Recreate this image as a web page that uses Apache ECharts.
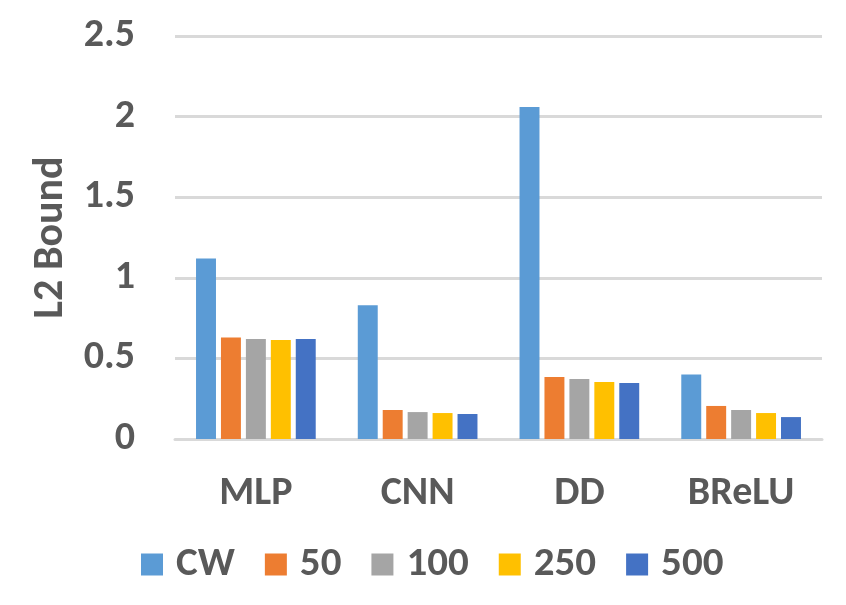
<!DOCTYPE html>
<html>
<head>
<meta charset="utf-8">
<script src="https://cdn.jsdelivr.net/npm/echarts@6/dist/echarts.min.js"></script>
<style>html,body{margin:0;padding:0;background:#fff;}#c{width:846px;height:605px;}</style>
</head>
<body>
<div id="c"></div>
<script>
const categories = ['MLP', 'CNN', 'DD', 'BReLU'];
const seriesNames = ['CW', '50', '100', '250', '500'];
const cw = [1.12, 0.83, 2.06, 0.40];
const s50 = [0.63, 0.18, 0.385, 0.205];
const s100 = [0.62, 0.167, 0.372, 0.18];
const s250 = [0.614, 0.161, 0.354, 0.161];
const s500 = [0.62, 0.155, 0.347, 0.136];
const yTicks = [0, 0.5, 1, 1.5, 2, 2.5];
const colors = ['#5B9BD5', '#ED7D31', '#A5A5A5', '#FFC000', '#4472C4'];

const FONT = "Carlito, 'Open Sans', sans-serif";
const values = [cw, s50, s100, s250, s500];
const chart = echarts.init(document.getElementById('c'));
chart.setOption({
  animation: false,
  textStyle: { fontFamily: FONT },
  grid: { left: 175, right: 24, top: 36, bottom: 166 },
  legend: {
    data: seriesNames,
    left: 141,
    top: 544,
    padding: 0,
    itemWidth: 22,
    itemHeight: 22,
    itemGap: 30,
    icon: 'rect',
    textStyle: { fontFamily: FONT, fontSize: 41, fontWeight: 'bold', color: '#595959', padding: [0, 0, 0, 8] }
  },
  xAxis: {
    type: 'category',
    data: categories,
    axisLine: { lineStyle: { color: '#D9D9D9', width: 3 } },
    axisTick: { show: false },
    axisLabel: { margin: 35, fontFamily: FONT, fontSize: 40, fontWeight: 'bold', color: '#595959' }
  },
  yAxis: {
    type: 'value',
    min: 0,
    max: 2.5,
    interval: 0.5,
    name: 'L2 Bound',
    nameLocation: 'middle',
    nameGap: 97,
    nameTextStyle: { fontFamily: FONT, fontSize: 42, fontWeight: 'bold', color: '#595959' },
    axisLine: { show: false },
    axisTick: { show: false },
    splitLine: { lineStyle: { color: '#D9D9D9', width: 3 } },
    axisLabel: {
      margin: 40,
      fontFamily: FONT, fontSize: 40, fontWeight: 'bold', color: '#595959',
      formatter: v => yTicks.includes(v) ? String(v) : ''
    }
  },
  series: seriesNames.map((n, i) => ({
    name: n,
    type: 'bar',
    data: values[i],
    barGap: '25%',
    barCategoryGap: '26%',
    itemStyle: { color: colors[i] }
  }))
});
</script>
</body>
</html>
